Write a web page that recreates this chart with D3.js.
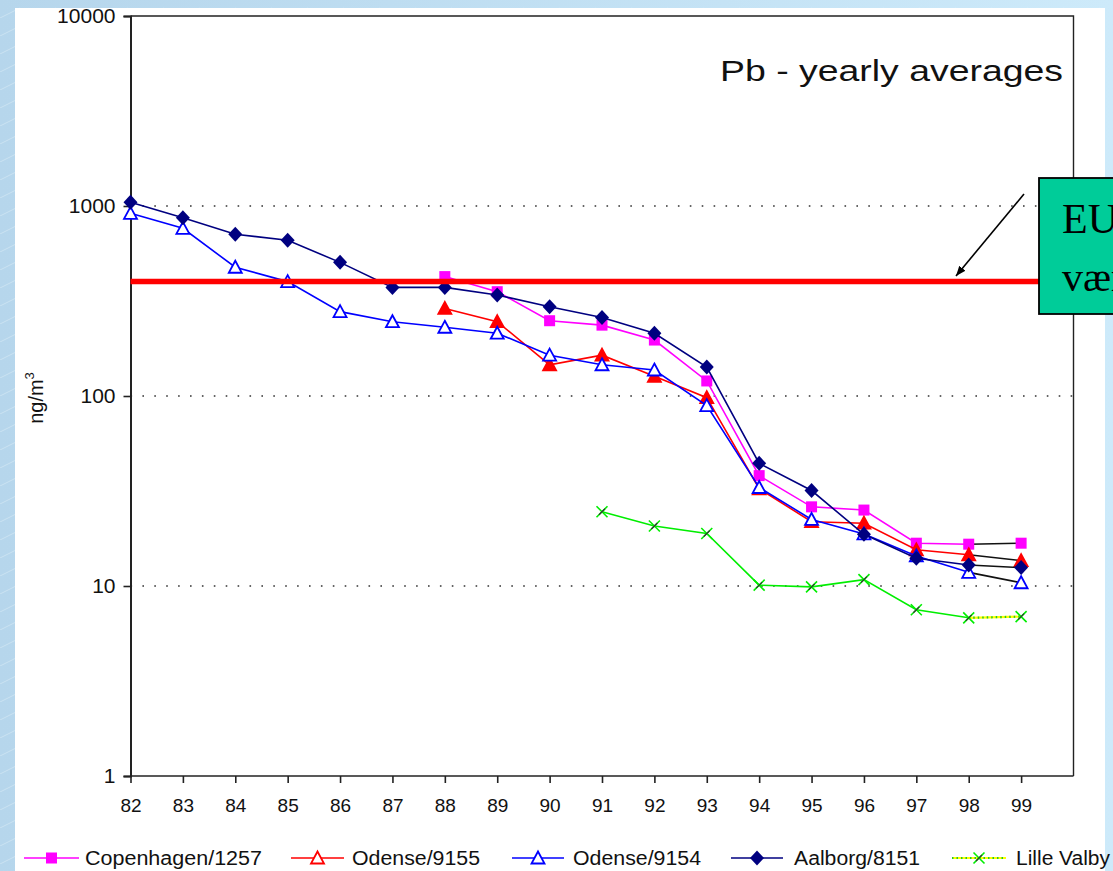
<!DOCTYPE html>
<html>
<head>
<meta charset="utf-8">
<script src="https://cdn.jsdelivr.net/npm/d3@7"></script>
<style>
html,body{margin:0;padding:0;overflow:hidden;background:#c4e2f6;}
svg{display:block;}
</style>
</head>
<body>
<svg id="chart" width="1113" height="871"></svg>
<script>
// ---------- DATA ----------
const years = ["82","83","84","85","86","87","88","89","90","91","92","93","94","95","96","97","98","99"];
const copenhagen = [null,null,null,null,null,null,425,354,249,236,197,120,38.1,26.1,25.1,16.8,16.6,16.8];
const odense9155 = [null,null,null,null,null,null,289,246,146,164,127,98,32.5,21.8,21.4,15.5,14.6,13.6];
const odense9154 = [915,763,476,400,278,246,230,214,164,146,137,89,33,22.4,18.8,14.4,11.8,10.4];
const aalborg    = [1046,868,710,660,505,373,373,340,295,259,214,142,44.2,31.8,18.7,14.0,12.9,12.5];
const lilleValby = [null,null,null,null,null,null,null,null,null,24.6,20.7,18.9,10.1,9.9,10.8,7.5,6.8,6.9];
const yTicks = [1,10,100,1000,10000];
const seriesNames = ["Copenhagen/1257","Odense/9155","Odense/9154","Aalborg/8151","Lille Valby"];
const euLimit = 400;
const titleText = "Pb - yearly averages";

// ---------- SETUP ----------
const svg = d3.select("#chart");
const W = 1113, H = 871;
const defs = svg.append("defs");
const grad = defs.append("linearGradient").attr("id","bg").attr("x1","0").attr("x2","1").attr("y1","0").attr("y2","0");
grad.append("stop").attr("offset","0").attr("stop-color","#b6d6ec");
grad.append("stop").attr("offset","1").attr("stop-color","#cdeafa");
const pat = defs.append("pattern").attr("id","streak").attr("width",36).attr("height",18).attr("patternUnits","userSpaceOnUse");
pat.append("line").attr("x1",0).attr("y1",18).attr("x2",20).attr("y2",8).attr("stroke","#ffffff").attr("stroke-opacity",0.35).attr("stroke-width",0.8);

svg.append("rect").attr("width",W).attr("height",H).attr("fill","url(#bg)");
svg.append("rect").attr("width",W).attr("height",H).attr("fill","url(#streak)");
// white panel
svg.append("rect").attr("x",15).attr("y",8).attr("width",1090).attr("height",H-8).attr("fill","#ffffff");

const x = d3.scaleLinear().domain([0,18]).range([130.5,1073.5]);
const y = d3.scaleLog().domain([1,10000]).range([776,16]);
const font = "'Liberation Sans', Arial, sans-serif";

// gridlines
svg.append("g").selectAll("line").data([10,100,1000]).join("line")
  .attr("x1",x(0)).attr("x2",x(18)).attr("y1",d=>y(d)).attr("y2",d=>y(d))
  .attr("stroke","#333").attr("stroke-width",1.6).attr("stroke-dasharray","1.6,10.3");

// plot border (top & right)
svg.append("path").attr("d",`M${x(0)},${y(10000)}H${x(18)}V${y(1)}`)
  .attr("fill","none").attr("stroke","#222").attr("stroke-width",1.4);

// Y axis
const yAxis = d3.axisLeft(y).tickValues(yTicks).tickFormat(d3.format("d")).tickSize(7).tickPadding(8);
const gy = svg.append("g").attr("transform",`translate(${x(0)},0)`).call(yAxis);
gy.select(".domain").attr("stroke","#222").attr("stroke-width",2);
gy.selectAll(".tick line").attr("stroke","#222").attr("stroke-width",1.6);
gy.selectAll(".tick text").attr("font-family",font).attr("font-size",21).attr("fill","#111");

// X axis
const xAxis = d3.axisBottom(x).tickValues(d3.range(18)).tickFormat(i=>years[i]).tickSize(7).tickPadding(16);
const gx = svg.append("g").attr("transform",`translate(0,${y(1)})`).call(xAxis);
gx.select(".domain").attr("stroke","#222").attr("stroke-width",1.6).attr("d",`M${x(0)},0H${x(18)}`);
gx.selectAll(".tick line").attr("stroke","#222").attr("stroke-width",1.6);
gx.selectAll(".tick text").attr("font-family",font).attr("font-size",19).attr("fill","#111");

// Y label
const yl = svg.append("text").attr("transform","translate(43,398) rotate(-90)")
  .attr("text-anchor","middle").attr("font-family",font).attr("font-size",20).attr("fill","#111");
yl.append("tspan").text("ng/m");
yl.append("tspan").attr("dy",-9).attr("font-size",13).text("3");

// Title
svg.append("text").attr("x",720).attr("y",81).attr("font-family",font).attr("font-size",29)
  .attr("textLength",343).attr("lengthAdjust","spacingAndGlyphs").attr("fill","#111").text(titleText);

// ---------- SERIES ----------
const series = [
  {name:seriesNames[0], vals:copenhagen, color:"#ff00ff", marker:"square"},
  {name:seriesNames[1], vals:odense9155, color:"#ff0000", marker:"tri", fill:true},
  {name:seriesNames[2], vals:odense9154, color:"#0000ff", marker:"tri", fill:false},
  {name:seriesNames[3], vals:aalborg,    color:"#000080", marker:"diamond"},
  {name:seriesNames[4], vals:lilleValby, color:"#00ee00", marker:"x"}
];

const line = d3.line().defined(d=>d.v!=null).x(d=>x(d.i)).y(d=>y(d.v));

function drawMarker(g, type, cx, cy, s, legend){
  if(type==="square"){
    g.append("rect").attr("x",cx-5.5).attr("y",cy-5.5).attr("width",11).attr("height",11).attr("fill",s.color);
  } else if(type==="tri"){
    const p = `M${cx},${cy-6.5}L${cx+6.5},${cy+5.5}L${cx-6.5},${cy+5.5}Z`;
    const filled = s.fill && !legend;
    g.append("path").attr("d",p).attr("fill",filled?s.color:"#ffffff").attr("stroke",s.color).attr("stroke-width",1.8);
  } else if(type==="diamond"){
    g.append("path").attr("d",`M${cx},${cy-7.5}L${cx+7},${cy}L${cx},${cy+7.5}L${cx-7},${cy}Z`).attr("fill",s.color);
  } else if(type==="x"){
    g.append("path").attr("d",`M${cx-5.5},${cy-5.5}L${cx+5.5},${cy+5.5}M${cx-5.5},${cy+5.5}L${cx+5.5},${cy-5.5}`)
      .attr("stroke",s.color).attr("stroke-width",1.6);
    g.append("path").attr("d",`M${cx-3},${cy+3}L${cx+3},${cy-3}`).attr("stroke","#333").attr("stroke-width",1.2);
  }
}

const gs = svg.append("g");
series.forEach(s=>{
  const pts = s.vals.map((v,i)=>({i,v}));
  const main = pts.slice(0,17);
  const last = pts.slice(16,18);
  gs.append("path").attr("d",line(main)).attr("fill","none").attr("stroke",s.color).attr("stroke-width",1.6);
  if(s.marker==="x"){
    gs.append("path").attr("d",line(last)).attr("fill","none").attr("stroke","#ffff00").attr("stroke-width",2.2);
    gs.append("path").attr("d",line(last)).attr("fill","none").attr("stroke","#22cc22").attr("stroke-width",2.2).attr("stroke-dasharray","1.5,3");
  } else {
    gs.append("path").attr("d",line(last)).attr("fill","none").attr("stroke","#111").attr("stroke-width",1.6);
  }
  pts.filter(d=>d.v!=null).forEach(d=>drawMarker(gs, s.marker, x(d.i), y(d.v), s, false));
});

// EU limit line
svg.append("line").attr("x1",x(0)).attr("x2",1040).attr("y1",y(euLimit)).attr("y2",y(euLimit))
  .attr("stroke","#ff0000").attr("stroke-width",5.5);

// Arrow
defs.append("marker").attr("id","ah").attr("viewBox","0 0 10 10").attr("refX",10).attr("refY",5)
  .attr("markerWidth",10).attr("markerHeight",10).attr("markerUnits","userSpaceOnUse").attr("orient","auto")
  .append("path").attr("d","M0,1L10,5L0,9Z").attr("fill","#000");
svg.append("line").attr("x1",1024).attr("y1",194).attr("x2",956).attr("y2",276)
  .attr("stroke","#000").attr("stroke-width",1.6).attr("marker-end","url(#ah)");

// EU box (extends beyond the window edge, as in the reference)
svg.append("rect").attr("x",1039).attr("y",178).attr("width",90).attr("height",136)
  .attr("fill","#00cc99").attr("stroke","#000").attr("stroke-width",1.8);
svg.append("text").attr("x",1062).attr("y",233).attr("font-family","'Liberation Serif','Times New Roman',serif")
  .attr("font-size",42).attr("fill","#000").text("EU grænse");
svg.append("text").attr("x",1062).attr("y",291).attr("font-family","'Liberation Serif','Times New Roman',serif")
  .attr("font-size",42).attr("fill","#000").text("værdi");

// ---------- LEGEND ----------
const legPos = [
  {x1:24,x2:79,tx:85,tw:177},
  {x1:291,x2:344,tx:352,tw:128},
  {x1:512,x2:564,tx:573,tw:128},
  {x1:731,x2:783,tx:794,tw:126},
  {x1:952,x2:1006,tx:1016,tw:94}
];
const lg = svg.append("g");
series.forEach((s,k)=>{
  const p = legPos[k], cy = 858;
  if(s.marker==="x"){
    lg.append("line").attr("x1",p.x1).attr("x2",p.x2).attr("y1",cy).attr("y2",cy).attr("stroke","#ffff00").attr("stroke-width",2.2);
    lg.append("line").attr("x1",p.x1).attr("x2",p.x2).attr("y1",cy).attr("y2",cy).attr("stroke","#22cc22").attr("stroke-width",2.2).attr("stroke-dasharray","1.5,3");
  } else {
    lg.append("line").attr("x1",p.x1).attr("x2",p.x2).attr("y1",cy).attr("y2",cy).attr("stroke",s.color).attr("stroke-width",1.6);
  }
  drawMarker(lg, s.marker, (p.x1+p.x2)/2, cy, s, true);
  lg.append("text").attr("x",p.tx).attr("y",cy+7).attr("font-family",font).attr("font-size",20)
    .attr("textLength",p.tw).attr("lengthAdjust","spacingAndGlyphs").attr("fill","#111").text(s.name);
});
</script>
</body>
</html>
